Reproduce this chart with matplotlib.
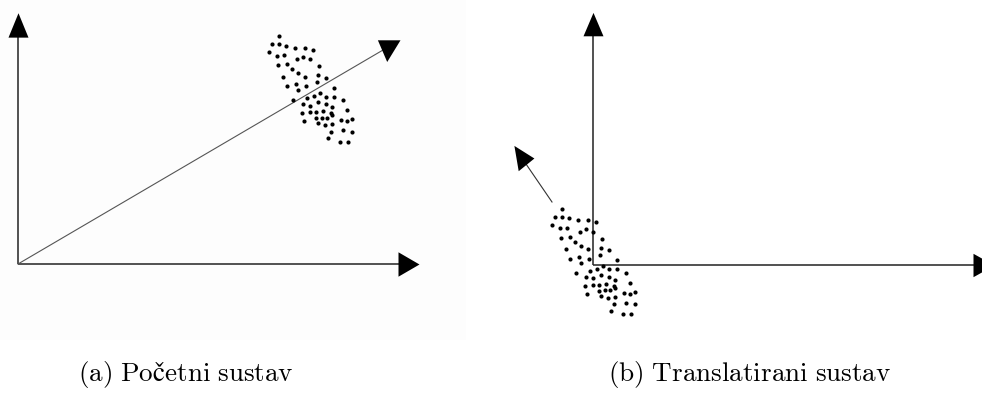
import matplotlib
matplotlib.use("Agg")
import matplotlib.pyplot as plt
import numpy as np

plt.rcParams['mathtext.fontset'] = 'cm'

# ---- data (units: 10 px, panel (a) origin at axis corner, y up) ----
dots_x = [26.13, 25.37, 26.13, 26.77, 27.70, 28.70, 29.53, 25.10, 25.87, 26.63,
          27.87, 28.53, 29.20, 26.03, 26.87, 30.13, 27.37, 28.03, 28.70, 30.03,
          30.77, 26.47, 26.87, 27.80, 28.80, 29.87, 31.60, 28.03, 27.53, 28.87,
          29.63, 30.20, 30.77, 31.60, 32.53, 28.47, 29.20, 30.03, 30.80, 31.43,
          28.37, 29.20, 29.80, 30.53, 31.30, 32.87, 28.63, 29.80, 30.37, 30.90,
          31.43, 32.30, 32.87, 33.43, 29.97, 30.70, 31.37, 31.30, 32.47, 33.43,
          30.97, 32.20, 32.97]
dots_y = [22.80, 21.97, 21.97, 21.83, 21.63, 21.63, 21.43, 21.17, 20.83, 20.90,
          20.50, 20.73, 20.50, 19.90, 19.97, 19.77, 19.47, 19.07, 18.73, 18.90,
          18.63, 18.73, 17.80, 18.00, 17.80, 18.17, 17.63, 17.40, 16.40, 16.57,
          16.80, 17.07, 16.73, 16.73, 16.40, 16.00, 15.83, 16.17, 15.97, 15.67,
          15.07, 15.17, 15.17, 15.30, 15.07, 15.40, 14.30, 14.57, 14.63, 14.63,
          14.90, 14.40, 14.30, 14.50, 14.07, 13.90, 14.00, 13.23, 13.40, 13.23,
          12.57, 12.23, 12.23]
translation = [29.2, 17.2]            # origin of the translated system
vector_a = [36.98, 21.68]             # long vector in panel (a)
vector_b_start = [-4.1, 6.25]         # direction arrow in panel (b)
vector_b_end = [-7.09, 10.62]
captions = ['$\\mathrm{(a)\\ Po\u010detni\\ sustav}$',
            '$\\mathrm{(b)\\ Translatirani\\ sustav}$']

W, H = 982, 397
fig = plt.figure(figsize=(W / 100, H / 100), dpi=100)


def add_panel(x0, x1, y0, y1, ox, oy, face):
    ax = fig.add_axes([x0 / W, (H - y1) / H, (x1 - x0) / W, (y1 - y0) / H])
    ax.set_xlim((x0 - ox) / 10, (x1 - ox) / 10)
    ax.set_ylim((oy - y1) / 10, (oy - y0) / 10)
    ax.set_xticks([])
    ax.set_yticks([])
    for s in ax.spines.values():
        s.set_visible(False)
    ax.set_facecolor(face)
    return ax


def head(ax, x, y, verts):
    m = max(abs(v) for p in verts for v in p)
    ax.plot([x], [y], marker=verts, ms=2 * m * 0.72, color='black',
            mew=0, ls='none', clip_on=False, zorder=4)


AX_C = '#222222'
AX_LW = 1.1
DOT_MS = 3.0

# ---- panel (a) ----
axa = add_panel(0, 466, 0, 340, 18, 264, '#fdfdfd')
axa.plot([0, 0], [0, 23.54], color=AX_C, lw=AX_LW, solid_capstyle='butt')
head(axa, 0, 23.54, [(0, 16.27), (-10, -8.13), (10, -8.13)])
axa.plot([0, 38.73], [0, 0], color=AX_C, lw=AX_LW, solid_capstyle='butt')
head(axa, 38.73, 0, [(14, 0), (-7, 12.2), (-7, -12.2)])
axa.plot([0, vector_a[0]], [0, vector_a[1]], color='#555555', lw=0.8)
head(axa, vector_a[0], vector_a[1], [(-1.3, -14.5), (-10.6, 7.2), (12, 7.2)])
axa.plot(dots_x, dots_y, 'o', ms=DOT_MS, color='black', mew=0, zorder=5)

# ---- panel (b) ----
axb = add_panel(476, 982, 0, 340, 593, 264.5, 'white')
bx = np.array(dots_x) - translation[0]
by = np.array(dots_y) - translation[1]
axb.plot([0, 0], [0, 23.66], color=AX_C, lw=AX_LW, solid_capstyle='butt')
head(axb, 0, 23.66, [(0, 15.6), (-10, -7.8), (10, -7.8)])
axb.plot([0, 38.67], [0, 0], color=AX_C, lw=AX_LW, solid_capstyle='butt',
         clip_on=False)
head(axb, 38.67, 0, [(14, 0), (-7, 11.7), (-7, -11.7)])
axb.plot([vector_b_start[0], vector_b_end[0]], [vector_b_start[1], vector_b_end[1]],
         color='#333333', lw=0.8)
head(axb, vector_b_end[0], vector_b_end[1], [(-8.1, 12.6), (11.9, 0), (-3.8, -12.7)])
axb.plot(bx, by, 'o', ms=DOT_MS, color='black', mew=0, zorder=5)

# ---- captions ----
fig.text(186 / W, (H - 381) / H, captions[0], ha='center', va='baseline', fontsize=19.5)
fig.text(750 / W, (H - 381) / H, captions[1], ha='center', va='baseline', fontsize=19.5)

fig.savefig('out.png', dpi=100)
